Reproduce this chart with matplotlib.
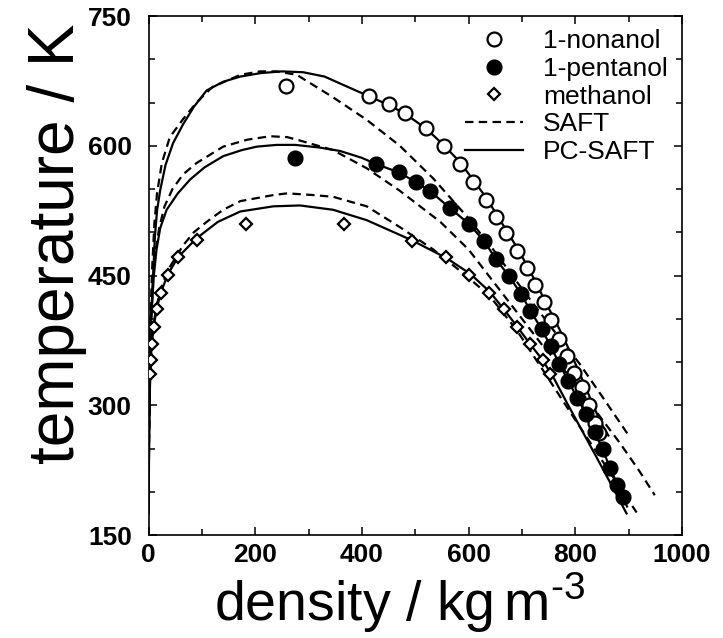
import matplotlib
matplotlib.use("Agg")
import matplotlib.pyplot as plt
from matplotlib.ticker import MultipleLocator

plt.rcParams['font.family'] = ['Liberation Sans', 'DejaVu Sans']
plt.rcParams['mathtext.fontset'] = 'custom'
plt.rcParams['mathtext.rm'] = 'Liberation Sans'

# experimental points (density kg/m3, temperature K)
nonanol_rho = [258, 414, 451, 481, 520, 553, 584, 608, 633, 652, 671, 691, 710, 724, 741, 754,
               770, 784, 798, 812, 825, 837, 845]
nonanol_T = [669, 658, 648, 638, 620, 600, 579, 558, 537, 518, 499, 478, 459, 439, 419, 399,
             377, 357, 337, 321, 300, 279, 268]

pentanol_rho = [275, 426, 470, 501, 527, 565, 600, 629, 651, 675, 698, 716, 737, 754, 770, 787,
                804, 820, 837, 851, 865, 879, 889]
pentanol_T = [586, 579, 570, 558, 548, 528, 510, 490, 469, 450, 429, 409, 388, 368, 348, 328,
              308, 290, 269, 249, 228, 208, 194]

methanol_rho = [3, 4, 6, 10, 15, 23, 36, 55, 90, 183, 366, 493, 557, 601, 639, 666, 691, 715, 739, 753]
methanol_T = [336, 352, 371, 391, 411, 430, 451, 471, 491, 509, 509, 490, 471, 451, 430, 411, 391, 371, 352, 336]

# PC-SAFT curves
pc_nonanol_rho = [0.3, 1, 2, 3.5, 5.5, 8, 12, 16, 22, 32, 46, 65, 85, 109, 140, 172, 210, 250, 290,
                  330, 359, 414, 451, 481, 520, 553, 584, 608, 633, 652, 672, 692, 710, 727, 742,
                  757, 771, 784, 796, 808, 820, 832, 845, 855, 862]
pc_nonanol_T = [265, 300, 340, 380, 410, 441, 495, 525, 549, 578, 603, 625, 645, 664, 674, 680, 684,
                686, 685, 680, 672, 657, 647, 637, 620, 601, 581, 561, 540, 521, 501, 481, 461, 441,
                422, 404, 387, 370, 354, 337, 320, 302, 284, 272, 265]

pc_pentanol_rho = [0.3, 1, 2.5, 5, 10, 15, 22, 34, 55, 78, 105, 140, 175, 203, 240, 275, 320, 359,
                   400, 426, 470, 501, 527, 565, 600, 629, 651, 675, 698, 716, 737, 754, 770, 787,
                   804, 820, 837, 851, 865, 879, 889, 897]
pc_pentanol_T = [190, 260, 330, 400, 450, 480, 505, 526, 545, 561, 575, 588, 595, 599, 601, 601, 598,
                 594, 586, 579, 569, 558, 548, 528, 510, 490, 469, 450, 429, 409, 388, 368, 348, 328,
                 308, 290, 269, 249, 228, 208, 194, 183]

pc_methanol_rho = [0.3, 1, 2, 3, 4, 6, 10, 15, 23, 36, 55, 90, 130, 172, 234, 284, 346, 409, 471,
                   496, 559, 603, 640, 666, 691, 715, 739, 760, 785, 815, 845, 872, 896]
pc_methanol_T = [175, 250, 300, 336, 352, 371, 391, 411, 430, 451, 471, 493, 512, 524, 530, 531, 526,
                 514, 497, 490, 470, 452, 431, 411, 391, 371, 352, 331, 302, 268, 234, 203, 175]

# SAFT curves
saft_nonanol_rho = [0.3, 1, 2, 4, 7, 11, 16, 25, 40, 65, 90, 120, 172, 209, 240, 278, 346, 409, 471,
                    534, 597, 650, 702, 755, 808, 855, 899]
saft_nonanol_T = [266, 320, 360, 410, 460, 510, 545, 580, 610, 631, 650, 668, 682, 686, 686, 682, 656,
                  630, 600, 562, 518, 477, 433, 390, 348, 306, 266]

saft_pentanol_rho = [0.3, 1, 2.5, 5, 9, 14, 20, 30, 45, 65, 90, 140, 185, 228, 260, 284, 346, 409,
                     471, 547, 600, 650, 690, 740, 790, 840, 884, 920, 949]
saft_pentanol_T = [194, 260, 330, 400, 450, 480, 505, 530, 550, 567, 580, 599, 607, 611, 610, 606,
                   595, 574, 548, 512, 480, 440, 408, 368, 333, 292, 256, 224, 196]

saft_methanol_rho = [0.3, 1, 2, 3, 5, 9, 14, 22, 35, 50, 65, 85, 109, 140, 172, 234, 260, 309, 346,
                     409, 471, 534, 597, 640, 690, 740, 800, 860, 915]
saft_methanol_T = [176, 260, 300, 330, 360, 390, 412, 432, 455, 470, 485, 500, 512, 526, 536, 543,
                   545, 543, 541, 530, 506, 480, 449, 426, 387, 340, 283, 227, 176]

fig = plt.figure(figsize=(7.23, 6.38), dpi=100)
ax = fig.add_axes([0.2054, 0.1614, 0.7379, 0.8135])

dash = (3.8, 2.4)
lw = 1.6
ax.plot(saft_nonanol_rho, saft_nonanol_T, 'k', lw=lw, dashes=dash)
ax.plot(saft_pentanol_rho, saft_pentanol_T, 'k', lw=lw, dashes=dash)
ax.plot(saft_methanol_rho, saft_methanol_T, 'k', lw=lw, dashes=dash)
ax.plot(pc_nonanol_rho, pc_nonanol_T, 'k-', lw=lw)
ax.plot(pc_pentanol_rho, pc_pentanol_T, 'k-', lw=lw)
ax.plot(pc_methanol_rho, pc_methanol_T, 'k-', lw=lw)

ax.plot(nonanol_rho, nonanol_T, 'o', ms=10, mfc='white', mec='k', mew=1.6, zorder=5)
ax.plot(pentanol_rho, pentanol_T, 'o', ms=10, mfc='k', mec='k', mew=1.6, zorder=5)
ax.plot(methanol_rho, methanol_T, 'D', ms=6.5, mfc='white', mec='k', mew=1.6, zorder=5)

# legend handles
h1, = ax.plot([], [], 'o', ms=10, mfc='white', mec='k', mew=1.6)
h2, = ax.plot([], [], 'o', ms=10, mfc='k', mec='k', mew=1.6)
h3, = ax.plot([], [], 'D', ms=6.5, mfc='white', mec='k', mew=1.6)
h4, = ax.plot([], [], 'k', lw=lw, dashes=dash)
h5, = ax.plot([], [], 'k-', lw=lw)
ax.legend([h1, h2, h3, h4, h5], ['1-nonanol', '1-pentanol', 'methanol', 'SAFT', 'PC-SAFT'],
          loc='upper left', bbox_to_anchor=(0.578, 0.99), frameon=False, fontsize=19,
          handlelength=2.2, handletextpad=0.76, labelspacing=0.14, borderaxespad=0,
          borderpad=0.3, numpoints=1)

ax.set_xlim(0, 1000)
ax.set_ylim(150, 750)
ax.xaxis.set_major_locator(MultipleLocator(200))
ax.xaxis.set_minor_locator(MultipleLocator(100))
ax.yaxis.set_major_locator(MultipleLocator(150))
ax.yaxis.set_minor_locator(MultipleLocator(50))
ax.tick_params(which='both', direction='in', top=True, right=True, width=1.1)
ax.tick_params(which='major', length=5.5)
ax.tick_params(which='minor', length=4)
ax.tick_params(axis='x', which='major', labelsize=19, pad=6)
ax.tick_params(axis='y', which='major', labelsize=19, pad=12)
for lab in ax.get_xticklabels() + ax.get_yticklabels():
    lab.set_fontweight('bold')
for sp in ax.spines.values():
    sp.set_linewidth(1.2)

ax.set_xlabel(r'density / kg$\,$m$^{\text{-3}}$', fontsize=40)
ax.set_ylabel('temperature / K', fontsize=46)
ax.xaxis.set_label_coords(0.471, -0.068)
ax.yaxis.set_label_coords(-0.116, 0.562)

fig.savefig('out.png', dpi=100)
